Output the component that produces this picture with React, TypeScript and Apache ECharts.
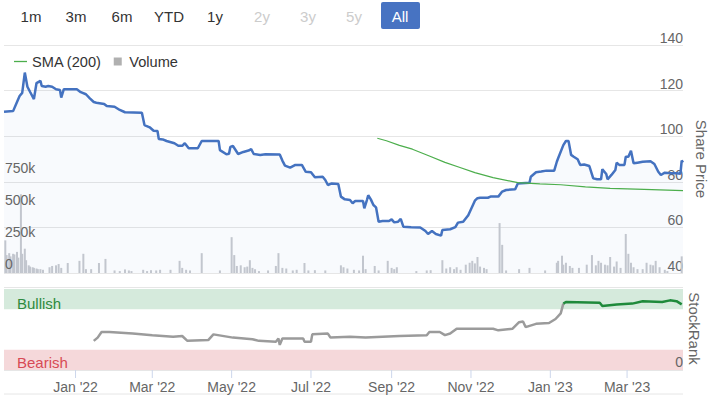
import React, { useEffect, useRef } from 'react';
import * as echarts from 'echarts';

const BUTTON_LABELS = ['1m', '3m', '6m', 'YTD', '1y', '2y', '3y', '5y', 'All'];
const BUTTON_ENABLED = [true, true, true, true, true, false, false, false, true];

const TICK_DATES = ['2022-01-01', '2022-03-01', '2022-05-01', '2022-07-01', '2022-09-01', '2022-11-01', '2023-01-01', '2023-03-01'];
const TICK_LABELS = ["Jan '22", "Mar '22", "May '22", "Jul '22", "Sep '22", "Nov '22", "Jan '23", "Mar '23"];
const PRICE_TICKS = [40, 60, 80, 100, 120, 140];
const VOLUME_TICKS = [0, 250000, 500000, 750000];
const VOLUME_TICK_LABELS = ['0', '250k', '500k', '750k'];
const RANK_TICKS = [0];

const RANGE_START = '2021-11-07';
const RANGE_END = '2023-04-13';

const PRICE_DATES = [
  '2021-11-07', '2021-11-14', '2021-11-17', '2021-11-19', '2021-11-21', '2021-11-23', '2021-11-25', '2021-11-27', '2021-11-30',
  '2021-12-02', '2021-12-05', '2021-12-06', '2021-12-09', '2021-12-11', '2021-12-14', '2021-12-17', '2021-12-20', '2021-12-21', '2021-12-23',
  '2022-01-02', '2022-01-05', '2022-01-09', '2022-01-12', '2022-01-15', '2022-01-17', '2022-01-23', '2022-01-25', '2022-01-31',
  '2022-02-04', '2022-02-08', '2022-02-21', '2022-02-23', '2022-02-27',
  '2022-03-02', '2022-03-05', '2022-03-06', '2022-03-09', '2022-03-12', '2022-03-18', '2022-03-21', '2022-03-24', '2022-03-26', '2022-03-29',
  '2022-04-05', '2022-04-08', '2022-04-21', '2022-04-22', '2022-04-27', '2022-04-29', '2022-04-30',
  '2022-05-02', '2022-05-06', '2022-05-10', '2022-05-14', '2022-05-16', '2022-05-18', '2022-05-23', '2022-05-27',
  '2022-06-07', '2022-06-09', '2022-06-11', '2022-06-15', '2022-06-19', '2022-06-24', '2022-06-27',
  '2022-07-01', '2022-07-04', '2022-07-10', '2022-07-12', '2022-07-14', '2022-07-17', '2022-07-22', '2022-07-24', '2022-07-27', '2022-07-31',
  '2022-08-02', '2022-08-04', '2022-08-10', '2022-08-11', '2022-08-13', '2022-08-14', '2022-08-16', '2022-08-18', '2022-08-20', '2022-08-22', '2022-08-25', '2022-08-30',
  '2022-09-01', '2022-09-03', '2022-09-06', '2022-09-08', '2022-09-10', '2022-09-16', '2022-09-23', '2022-09-27', '2022-09-29',
  '2022-10-02', '2022-10-05', '2022-10-09', '2022-10-10', '2022-10-16', '2022-10-20', '2022-10-22', '2022-10-26', '2022-10-29', '2022-10-30',
  '2022-11-04', '2022-11-06', '2022-11-08', '2022-11-14', '2022-11-16', '2022-11-22', '2022-11-25', '2022-11-28',
  '2022-12-05', '2022-12-07', '2022-12-16', '2022-12-17', '2022-12-21', '2022-12-25', '2022-12-29',
  '2023-01-04', '2023-01-06', '2023-01-07', '2023-01-11', '2023-01-13', '2023-01-15', '2023-01-17', '2023-01-19', '2023-01-22', '2023-01-24', '2023-01-27', '2023-01-31',
  '2023-02-03', '2023-02-06', '2023-02-09', '2023-02-10', '2023-02-13', '2023-02-14', '2023-02-17', '2023-02-20', '2023-02-21', '2023-02-23', '2023-02-27', '2023-02-28',
  '2023-03-02', '2023-03-04', '2023-03-06', '2023-03-09', '2023-03-13', '2023-03-19', '2023-03-22', '2023-03-25', '2023-03-27', '2023-03-30',
  '2023-04-04', '2023-04-08', '2023-04-11', '2023-04-12', '2023-04-13',
];
const PRICE_VALUES = [
  110.7, 111, 115, 117.6, 119, 127.9, 121.7, 119.5, 116.3,
  123.3, 124.3, 122, 121.7, 122, 121.7, 120.6, 120.3, 116.9, 120.6,
  120.6, 119.3, 118.4, 116.6, 115, 114.7, 114.1, 113.2, 112.9,
  111.5, 110.5, 110.3, 104.9, 103.9,
  102.4, 102.3, 98.8, 98.6, 97.9, 96.9, 95.8, 95.8, 96.9, 94.7,
  94.7, 97.9, 97.9, 93.9, 92.1, 92.3, 95.3,
  95.7, 92.2, 93.1, 93.7, 94.3, 92.2, 91.8, 92.1,
  92, 89.3, 87.1, 86.2, 87.4, 87.4, 84.4,
  84.2, 82, 82.2, 80.8, 78.6, 79.3, 79, 73.5, 72.3, 72,
  70.6, 71.6, 71.6, 68.4, 72, 74.1, 72.3, 69.8, 68.8, 62.5, 62.8, 62.8,
  63.5, 62.2, 62.5, 63.7, 60.3, 60.1, 60, 58.4, 57.1,
  58.4, 57.1, 56.4, 58.9, 59.2, 60.1, 62.1, 62.5, 64.7, 65.4,
  71.7, 72.8, 73, 73, 73.5, 73.5, 75.7, 76.4,
  76.7, 79.3, 79.6, 82.2, 84.2, 84.5, 84.9,
  84.9, 88.8, 90.3, 96.1, 97.9, 97.9, 91.8, 91, 89.9, 87.4, 87.6, 86.9,
  81.5, 81.1, 81.1, 85.5, 83.4, 81.1, 83, 85.2, 88.4, 87.4, 87.4, 91,
  91, 93.6, 88.1, 88.4, 88.8, 89, 87.8, 84.4, 83, 84,
  83.7, 83.7, 83.5, 89.3, 88.5,
];

const SMA_DATES = [
  '2022-08-21', '2022-08-28', '2022-09-07', '2022-09-17', '2022-09-30', '2022-10-12', '2022-10-23', '2022-11-04',
  '2022-11-18', '2022-12-07', '2022-12-24', '2023-01-09', '2023-01-28', '2023-02-16', '2023-03-14', '2023-04-13',
];
const SMA_VALUES = [99.1, 98, 96, 94.3, 91.3, 88.5, 86.4, 84, 81.8, 79.6, 79.1, 78.7, 77.8, 77.1, 76.7, 76.1];

const VOLUME_DATES = [
  '2021-11-08', '2021-11-09', '2021-11-11', '2021-11-12', '2021-11-14', '2021-11-15', '2021-11-17', '2021-11-18', '2021-11-20', '2021-11-21',
  '2021-11-23', '2021-11-24', '2021-11-26', '2021-11-27', '2021-11-29', '2021-11-30', '2021-12-02', '2021-12-03', '2021-12-05', '2021-12-07',
  '2021-12-12', '2021-12-14', '2021-12-17', '2021-12-19', '2021-12-21', '2021-12-26',
  '2022-01-04', '2022-01-07', '2022-01-09', '2022-01-13', '2022-01-19', '2022-01-24', '2022-01-31',
  '2022-02-04', '2022-02-08', '2022-02-11', '2022-02-13', '2022-02-22', '2022-02-25', '2022-02-28',
  '2022-03-04', '2022-03-07', '2022-03-15', '2022-03-22', '2022-03-24', '2022-03-27', '2022-03-30',
  '2022-04-08', '2022-04-22',
  '2022-05-01', '2022-05-03', '2022-05-05', '2022-05-08', '2022-05-11', '2022-05-13', '2022-05-15', '2022-05-17', '2022-05-19', '2022-05-22', '2022-05-29',
  '2022-06-04', '2022-06-06', '2022-06-09', '2022-06-12', '2022-06-17', '2022-06-20', '2022-06-26', '2022-06-29',
  '2022-07-04', '2022-07-12', '2022-07-24', '2022-07-26', '2022-07-29',
  '2022-08-03', '2022-08-07', '2022-08-10', '2022-08-12', '2022-08-19', '2022-08-22', '2022-08-29',
  '2022-09-01', '2022-09-03', '2022-09-05', '2022-09-20', '2022-09-28',
  '2022-10-01', '2022-10-10', '2022-10-13', '2022-10-16', '2022-10-19', '2022-10-21', '2022-10-24', '2022-10-28', '2022-10-31',
  '2022-11-02', '2022-11-04', '2022-11-06', '2022-11-08', '2022-11-11', '2022-11-13', '2022-11-23', '2022-11-25', '2022-11-28',
  '2022-12-08', '2022-12-16', '2022-12-28',
  '2023-01-06', '2023-01-07', '2023-01-10', '2023-01-11', '2023-01-13', '2023-01-16', '2023-01-18', '2023-01-23', '2023-01-29',
  '2023-02-02', '2023-02-05', '2023-02-07', '2023-02-09', '2023-02-12', '2023-02-14', '2023-02-16', '2023-02-19', '2023-02-21', '2023-02-24', '2023-02-28',
  '2023-03-02', '2023-03-04', '2023-03-06', '2023-03-09', '2023-03-13', '2023-03-16', '2023-03-19', '2023-03-21', '2023-03-23', '2023-03-26', '2023-03-30',
  '2023-04-01', '2023-04-12',
];
const VOLUME_VALUES = [
  255000, 140000, 155000, 130000, 150000, 145000, 165000, 120000, 615000, 150000,
  190000, 100000, 60000, 50000, 45000, 40000, 35000, 30000, 30000, 25000,
  45000, 55000, 60000, 70000, 40000, 78000,
  95000, 150000, 30000, 30000, 78000, 110000, 20000,
  15000, 28000, 20000, 15000, 25000, 15000, 22000,
  20000, 25000, 25000, 95000, 40000, 25000, 20000,
  155000, 20000,
  280000, 140000, 55000, 60000, 45000, 50000, 100000, 40000, 30000, 15000, 20000,
  55000, 155000, 40000, 35000, 20000, 25000, 78000, 20000,
  22000, 20000, 60000, 45000, 35000,
  25000, 20000, 135000, 30000, 55000, 20000, 95000,
  40000, 30000, 45000, 15000, 20000,
  22000, 100000, 35000, 45000, 30000, 45000, 25000, 65000, 80000,
  95000, 75000, 125000, 50000, 40000, 30000, 390000, 220000, 20000,
  30000, 40000, 20000,
  80000, 95000, 135000, 65000, 80000, 55000, 40000, 40000, 65000,
  140000, 60000, 95000, 80000, 65000, 60000, 125000, 50000, 90000, 40000, 305000,
  150000, 80000, 45000, 30000, 30000, 80000, 65000, 60000, 95000, 45000, 25000,
  15000, 130000,
];

const RANK_DATES = [
  '2022-01-15', '2022-01-18', '2022-01-21', '2022-01-27', '2022-02-14', '2022-03-01', '2022-03-17', '2022-03-24', '2022-03-28',
  '2022-04-13', '2022-04-17', '2022-05-02', '2022-05-17', '2022-05-22', '2022-06-04', '2022-06-06', '2022-06-07', '2022-06-09',
  '2022-06-25', '2022-06-26', '2022-07-01', '2022-07-02', '2022-07-14', '2022-07-16', '2022-07-31', '2022-08-12', '2022-08-25',
  '2022-09-07', '2022-09-28', '2022-09-30', '2022-10-08', '2022-10-12', '2022-10-16', '2022-10-21', '2022-11-18', '2022-11-22',
  '2022-12-03', '2022-12-08', '2022-12-11', '2022-12-13', '2022-12-21', '2022-12-31',
  '2023-01-05', '2023-01-09', '2023-01-11', '2023-01-13', '2023-02-08', '2023-02-10', '2023-02-21', '2023-03-05', '2023-03-13',
  '2023-03-28', '2023-04-03', '2023-04-08', '2023-04-12',
];
const RANK_VALUES = [
  36, 40, 47, 47, 45, 43, 41, 42, 36,
  37, 44, 40, 38, 36, 35, 39, 31, 39,
  39, 35, 35, 44, 45, 40, 41, 40, 41,
  42, 43, 47, 47, 43, 45, 51, 51, 49,
  51, 59, 60, 53, 57, 58,
  63, 70, 82, 84, 83, 79, 81, 82, 85,
  84, 86, 85, 81,
];
const BULLISH_RANGE = [75, 100];
const BEARISH_RANGE = [0, 25];
const BULLISH_FROM = 72;

const FONT = 'Arial, "Liberation Sans", sans-serif';

function toTime(s: string): number {
  const [y, m, d] = s.split('-').map(Number);
  return Date.UTC(y, m - 1, d);
}

export default function App() {
  const ref = useRef<HTMLDivElement>(null);

  useEffect(() => {
    if (!ref.current) return;
    const chart = echarts.init(ref.current, null, { renderer: 'svg' });
    const xMin = toTime(RANGE_START);
    const xMax = toTime(RANGE_END);

    const rankPoints = RANK_DATES.map((d, i) => [toTime(d), RANK_VALUES[i]]);
    const firstBull = RANK_VALUES.findIndex((v) => v >= BULLISH_FROM);
    const rankGray = rankPoints.slice(0, firstBull + 1);
    const rankGreen = rankPoints.slice(firstBull);

    const buttonX = [31, 76, 122, 169, 215, 262, 308, 354, 400];
    const graphic: any[] = [
      { type: 'rect', shape: { x: 381, y: 2, width: 39, height: 27, r: 2 }, style: { fill: '#4773c2' } },
      ...BUTTON_LABELS.map((b, i) => ({
        type: 'text',
        x: buttonX[i],
        y: 16,
        style: {
          text: b,
          fill: b === 'All' ? '#ffffff' : BUTTON_ENABLED[i] ? '#333333' : '#cccccc',
          font: `15px ${FONT}`,
          align: 'center',
          verticalAlign: 'middle',
        },
      })),
      { type: 'line', shape: { x1: 4, y1: 394, x2: 683, y2: 394 }, style: { stroke: '#e6e6e6', lineWidth: 1 } },
    ];

    const option: any = {
      animation: false,
      textStyle: { fontFamily: FONT },
      graphic,
      grid: [
        { left: 4, right: 26, top: 45, height: 228, containLabel: false, outerBoundsMode: 'none' },
        { left: 4, right: 26, top: 287, height: 83, containLabel: false, outerBoundsMode: 'none' },
      ],
      legend: {
        left: 14,
        top: 54,
        padding: 0,
        itemWidth: 13,
        itemHeight: 8,
        itemGap: 12,
        textStyle: { fontSize: 14.6, color: '#333333', fontFamily: FONT },
        data: [
          { name: 'SMA (200)', icon: 'path://M0,0L13,0L13,1.3L0,1.3Z', itemStyle: { color: '#4cae4c' } },
          { name: 'Volume', icon: 'path://M0,0L8,0L8,8L0,8Z', itemStyle: { color: '#b0b0b0' } },
        ],
      },
      xAxis: [
        { type: 'value', gridIndex: 0, min: xMin, max: xMax, show: false },
        { type: 'value', gridIndex: 1, min: xMin, max: xMax, show: false },
      ],
      yAxis: [
        {
          type: 'value',
          gridIndex: 0,
          position: 'right',
          min: PRICE_TICKS[0],
          max: PRICE_TICKS[PRICE_TICKS.length - 1],
          interval: 20,
          name: 'Share Price',
          nameLocation: 'middle',
          nameRotate: -90,
          nameGap: 4,
          nameTextStyle: { fontSize: 15, color: '#666666' },
          axisLine: { show: false },
          axisTick: { show: false },
          axisLabel: { inside: true, margin: 0, verticalAlign: 'bottom', color: '#666666', fontSize: 14 },
          splitLine: { lineStyle: { color: '#e6e6e6' } },
        },
        {
          type: 'value',
          gridIndex: 0,
          position: 'left',
          min: 0,
          max: 1781250,
          show: false,
        },
        {
          type: 'value',
          gridIndex: 1,
          position: 'right',
          min: 0,
          max: 102.5,
          interval: 102.5,
          name: 'StockRank',
          nameLocation: 'middle',
          nameRotate: -90,
          nameGap: 4,
          nameTextStyle: { fontSize: 15, color: '#666666' },
          axisLine: { show: false },
          axisTick: { show: false },
          axisLabel: { show: false },
          splitLine: { lineStyle: { color: '#e6e6e6' } },
        },
      ],
      series: [
        {
          name: 'Volume',
          type: 'bar',
          xAxisIndex: 0,
          yAxisIndex: 1,
          barWidth: 2,
          itemStyle: { color: '#c8cacf' },
          data: VOLUME_DATES.map((d, i) => [toTime(d), VOLUME_VALUES[i]]),
          z: 2,
        },
        {
          name: 'Price',
          type: 'line',
          xAxisIndex: 0,
          yAxisIndex: 0,
          symbol: 'none',
          lineStyle: { color: '#4472c0', width: 2.5 },
          itemStyle: { color: '#4472c0' },
          areaStyle: { color: 'rgba(68,114,192,0.05)' },
          data: PRICE_DATES.map((d, i) => [toTime(d), PRICE_VALUES[i]]),
          z: 3,
        },
        {
          name: 'SMA (200)',
          type: 'line',
          xAxisIndex: 0,
          yAxisIndex: 0,
          symbol: 'none',
          lineStyle: { color: '#4cae4c', width: 1.2 },
          itemStyle: { color: '#4cae4c' },
          data: SMA_DATES.map((d, i) => [toTime(d), SMA_VALUES[i]]),
          z: 4,
        },
        {
          name: 'StockRank',
          type: 'line',
          xAxisIndex: 1,
          yAxisIndex: 2,
          symbol: 'none',
          lineStyle: { width: 2.5, color: '#9b9b9b' },
          itemStyle: { color: '#9b9b9b' },
          data: rankGray,
          z: 3,
          markArea: {
            silent: true,
            data: [
              [
                {
                  yAxis: BULLISH_RANGE[0],
                  itemStyle: { color: '#d5eadc' },
                  label: {
                    show: true,
                    formatter: 'Bullish',
                    position: 'insideBottomLeft',
                    distance: 0,
                    offset: [13, 2],
                    color: '#2e8b40',
                    fontSize: 15,
                  },
                },
                { yAxis: BULLISH_RANGE[1] },
              ],
              [
                {
                  yAxis: BEARISH_RANGE[0],
                  itemStyle: { color: '#f5d8da' },
                  label: {
                    show: true,
                    formatter: 'Bearish',
                    position: 'insideBottomLeft',
                    distance: 0,
                    offset: [13, 0],
                    color: '#d84a55',
                    fontSize: 15,
                  },
                },
                { yAxis: BEARISH_RANGE[1] },
              ],
            ],
          },
        },
        {
          name: 'StockRank Bullish',
          type: 'line',
          xAxisIndex: 1,
          yAxisIndex: 2,
          symbol: 'none',
          lineStyle: { width: 2.5, color: '#1f8a3b' },
          itemStyle: { color: '#1f8a3b' },
          data: rankGreen,
          z: 4,
        },
        {
          name: 'DateTicks',
          type: 'custom',
          xAxisIndex: 1,
          yAxisIndex: 2,
          silent: true,
          clip: false,
          z: 10,
          data: TICK_DATES.map((d) => [toTime(d), 0]),
          renderItem: (params: any, api: any) => {
            const p = api.coord([api.value(0), 0]);
            return {
              type: 'group',
              children: [
                {
                  type: 'line',
                  shape: { x1: p[0], y1: p[1], x2: p[0], y2: p[1] + 8 },
                  style: { stroke: '#ccd6eb', lineWidth: 1 },
                },
                {
                  type: 'text',
                  x: p[0],
                  y: p[1] + 17,
                  style: {
                    text: TICK_LABELS[params.dataIndex],
                    fill: '#666666',
                    font: `14px ${FONT}`,
                    align: 'center',
                    verticalAlign: 'middle',
                  },
                },
              ],
            };
          },
        },
        {
          name: 'VolumeTicks',
          type: 'custom',
          xAxisIndex: 0,
          yAxisIndex: 1,
          silent: true,
          clip: false,
          z: 10,
          data: VOLUME_TICKS.map((v) => [xMin, v]),
          renderItem: (params: any, api: any) => {
            const p = api.coord([api.value(0), api.value(1)]);
            return {
              type: 'text',
              x: p[0] + 1,
              y: p[1] - 2,
              style: {
                text: VOLUME_TICK_LABELS[params.dataIndex],
                fill: '#666666',
                font: `14px ${FONT}`,
                align: 'left',
                verticalAlign: 'bottom',
              },
            };
          },
        },
        {
          name: 'RankTicks',
          type: 'custom',
          xAxisIndex: 1,
          yAxisIndex: 2,
          silent: true,
          clip: false,
          z: 10,
          data: RANK_TICKS.map((v) => [xMax, v]),
          renderItem: (params: any, api: any) => {
            const p = api.coord([api.value(0), api.value(1)]);
            return {
              type: 'text',
              x: p[0],
              y: p[1] - 1,
              style: {
                text: String(RANK_TICKS[params.dataIndex]),
                fill: '#666666',
                font: `14px ${FONT}`,
                align: 'right',
                verticalAlign: 'bottom',
              },
            };
          },
        },
      ],
    };

    chart.setOption(option);
    return () => chart.dispose();
  }, []);

  return (
    <div
      ref={ref}
      style={{ position: 'fixed', left: 0, top: 0, width: 709, height: 395, background: '#ffffff' }}
    />
  );
}
